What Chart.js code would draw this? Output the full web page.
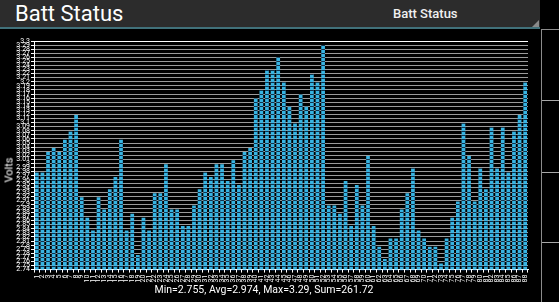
<!DOCTYPE html>
<html>
<head>
<meta charset="utf-8">
<script src="https://cdn.jsdelivr.net/npm/chart.js@4.4.1/dist/chart.umd.min.js"></script>
<style>
  html, body { margin: 0; padding: 0; background: #000; width: 559px; height: 302px; overflow: hidden; font-family: Roboto, "Noto Sans", sans-serif; }
  #bar { position: absolute; left: 0; top: 0; width: 540px; height: 27px; background: #2c2c2c; border-bottom: 2px solid #41717a; }
  #title { position: absolute; left: 15px; top: 1px; font-size: 22px; line-height: 25px; color: #fff; }
  #spinner { position: absolute; left: 393px; top: 6px; font-size: 13px; font-weight: 500; color: #f0f0f0; }
  #tri { position: absolute; left: 532px; top: 20px; width: 0; height: 0; border-left: 7px solid transparent; border-bottom: 7px solid #8a8a8a; }
  #side { position: absolute; left: 541px; top: 29px; width: 30px; height: 273px; border-left: 1px solid #8c8c8c; border-top: 1px solid #8c8c8c; }
  .hl { position: absolute; left: 542px; width: 17px; height: 1px; background: #a8a8a8; }
  #volts { position: absolute; left: 9px; top: 170px; transform: translate(-50%, -50%) rotate(-90deg); color: #fff; font-size: 11px; }
  #wrap { position: absolute; left: 0; top: 29px; width: 540px; height: 273px; }
</style>
</head>
<body>
<div id="bar"><div id="title">Batt Status</div><div id="spinner">Batt Status</div><div id="tri"></div></div>
<div id="side"></div>
<div class="hl" style="top:100px"></div>
<div class="hl" style="top:172px"></div>
<div class="hl" style="top:242px"></div>
<div id="wrap"><canvas id="chart"></canvas></div>
<div id="volts">Volts</div>
<script>
// sample numbers along the x axis
const categories = [
  '1','2','3','4','5','6','7','8','9','10','11','12','13','14','15','16','17','18','19','20',
  '21','22','23','24','25','26','27','28','29','30','31','32','33','34','35','36','37','38','39','40',
  '41','42','43','44','45','46','47','48','49','50','51','52','53','54','55','56','57','58','59','60',
  '61','62','63','64','65','66','67','68','69','70','71','72','73','74','75','76','77','78','79','80',
  '81','82','83','84','85','86','87','88'
];

// battery voltage per sample
const voltages = [
  2.978, 2.978, 3.028, 3.038, 3.028, 3.058, 3.078, 3.119, 2.917, 2.867,
  2.836, 2.917, 2.887, 2.937, 2.967, 3.058, 2.836, 2.877, 2.776, 2.867,
  2.836, 2.927, 2.927, 2.998, 2.887, 2.887, 2.847, 2.847, 2.897, 2.937,
  2.978, 2.967, 2.998, 2.998, 2.957, 3.008, 2.947, 3.028, 3.038, 3.159,
  3.179, 3.229, 3.229, 3.260, 3.199, 3.139, 3.098, 3.169, 3.139, 3.219,
  3.199, 3.290, 2.897, 2.897, 2.877, 2.957, 2.847, 2.947, 2.897, 3.018,
  2.847, 2.796, 2.766, 2.816, 2.816, 2.887, 2.927, 2.988, 2.836, 2.816,
  2.796, 2.796, 2.755, 2.816, 2.867, 2.907, 3.098, 3.018, 2.907, 2.988,
  2.937, 3.088, 2.988, 3.088, 2.978, 3.078, 3.119, 3.199
];

// y axis range and step of the tick labels
const yMin = 2.74;
const yMax = 3.3;
const yStep = 0.01;

const footer = 'Min=2.755, Avg=2.974, Max=3.29, Sum=261.72';

Chart.defaults.font.family = 'Roboto';

// dark grid lines running across the bars
const barStripes = {
  id: 'barStripes',
  afterDatasetsDraw(chart) {
    const ctx = chart.ctx;
    const y = chart.scales.y;
    const area = chart.chartArea;
    ctx.save();
    ctx.beginPath();
    chart.getDatasetMeta(0).data.forEach(b => {
      const p = b.getProps(['x', 'y', 'width', 'base'], true);
      ctx.rect(p.x - p.width / 2, p.y, p.width, p.base - p.y);
    });
    ctx.clip();
    ctx.strokeStyle = 'rgba(8,28,52,0.85)';
    ctx.lineWidth = 1;
    y.ticks.forEach(t => {
      const py = Math.round(y.getPixelForValue(t.value)) + 0.5;
      ctx.beginPath();
      ctx.moveTo(area.left, py);
      ctx.lineTo(area.right, py);
      ctx.stroke();
    });
    ctx.restore();
  }
};

new Chart(document.getElementById('chart'), {
  type: 'bar',
  data: {
    labels: categories,
    datasets: [{
      data: voltages,
      backgroundColor: '#38b4e2',
      categoryPercentage: 1,
      barPercentage: 0.66
    }]
  },
  options: {
    responsive: true,
    maintainAspectRatio: false,
    animation: false,
    layout: { padding: { top: 12, right: 12, left: 0, bottom: 0 } },
    plugins: {
      legend: { display: false },
      tooltip: { enabled: false },
      title: {
        display: true,
        position: 'bottom',
        text: footer,
        color: '#fff',
        font: { size: 10.5, weight: 'normal' },
        padding: { top: 2, bottom: 5 }
      }
    },
    scales: {
      x: {
        ticks: { autoSkip: false, maxRotation: 90, minRotation: 90, color: '#fff', font: { size: 7 }, padding: 2 },
        grid: { drawOnChartArea: false, color: '#fff', tickLength: 3 },
        border: { color: '#fff' },
        afterFit: s => { s.height = 12.8; }
      },
      y: {
        min: yMin,
        max: yMax,
        ticks: {
          stepSize: yStep,
          autoSkip: false,
          color: '#fff',
          font: { size: 7 },
          padding: 1,
          callback: v => String(parseFloat(v.toFixed(2)))
        },
        grid: {
          color: c => (c.index === 56 ? '#fff' : '#9a9a9a'),
          tickColor: '#fff',
          tickLength: 3
        },
        border: { color: '#fff' },
        afterFit: s => { s.width = 34; }
      }
    }
  },
  plugins: [barStripes]
});
</script>
</body>
</html>
